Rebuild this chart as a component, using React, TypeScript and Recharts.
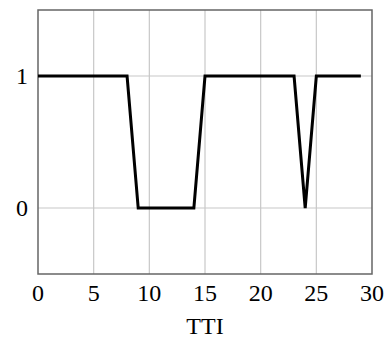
import React from 'react';
import { LineChart, Line, XAxis, YAxis, CartesianGrid, ReferenceArea } from 'recharts';

const tti = [0, 8, 9, 14, 15, 23, 24, 25, 29];
const values = [1, 1, 0, 0, 1, 1, 0, 1, 1];
const xTicks = [0, 5, 10, 15, 20, 25, 30];
const yTicks = [0, 1];

const data = tti.map((t, i) => ({ t, v: values[i] }));

const FONT = 'Liberation Serif';
const FS = 24;

const XTick = (props: any) => (
  <text x={props.x} y={props.y + 27} textAnchor="middle" fill="#000" fontSize={FS} fontFamily={FONT}>
    {props.payload.value}
  </text>
);

const YTick = (props: any) => (
  <text x={props.x - 10} y={props.y + 8} textAnchor="end" fill="#000" fontSize={FS} fontFamily={FONT}>
    {props.payload.value}
  </text>
);

export default function App() {
  return (
    <div style={{ position: 'absolute', left: 0, top: 0, width: 385, height: 338, overflow: 'hidden' }}>
      <LineChart width={385} height={338} data={data} margin={{ top: 10, right: 13, left: 0, bottom: 0 }}>
        <CartesianGrid stroke="#c8c8c8" strokeWidth={1.2} verticalValues={[5, 10, 15, 20, 25]} horizontalValues={[0, 1]} />
        <ReferenceArea x1={0} x2={30} y1={-0.5} y2={1.5} fill="none" stroke="#666" strokeWidth={1.5} fillOpacity={0} ifOverflow="visible" />
        <XAxis
          dataKey="t"
          type="number"
          domain={[0, 30]}
          ticks={xTicks}
          interval={0}
          height={64}
          tickSize={0}
          tickMargin={0}
          axisLine={false}
          tickLine={false}
          tick={<XTick />}
          label={(props: any) => {
            const vb = props.viewBox;
            return (
              <text x={vb.x + vb.width / 2} y={vb.y + 60} textAnchor="middle" fill="#000" fontSize={FS} fontFamily={FONT}>
                TTI
              </text>
            );
          }}
        />
        <YAxis
          type="number"
          domain={[-0.5, 1.5]}
          ticks={yTicks}
          interval={0}
          width={38}
          tickSize={0}
          tickMargin={0}
          axisLine={false}
          tickLine={false}
          tick={<YTick />}
        />
        <Line
          dataKey="v"
          type="linear"
          stroke="#000"
          strokeWidth={3}
          dot={false}
          activeDot={false}
          isAnimationActive={false}
        />
      </LineChart>
    </div>
  );
}
